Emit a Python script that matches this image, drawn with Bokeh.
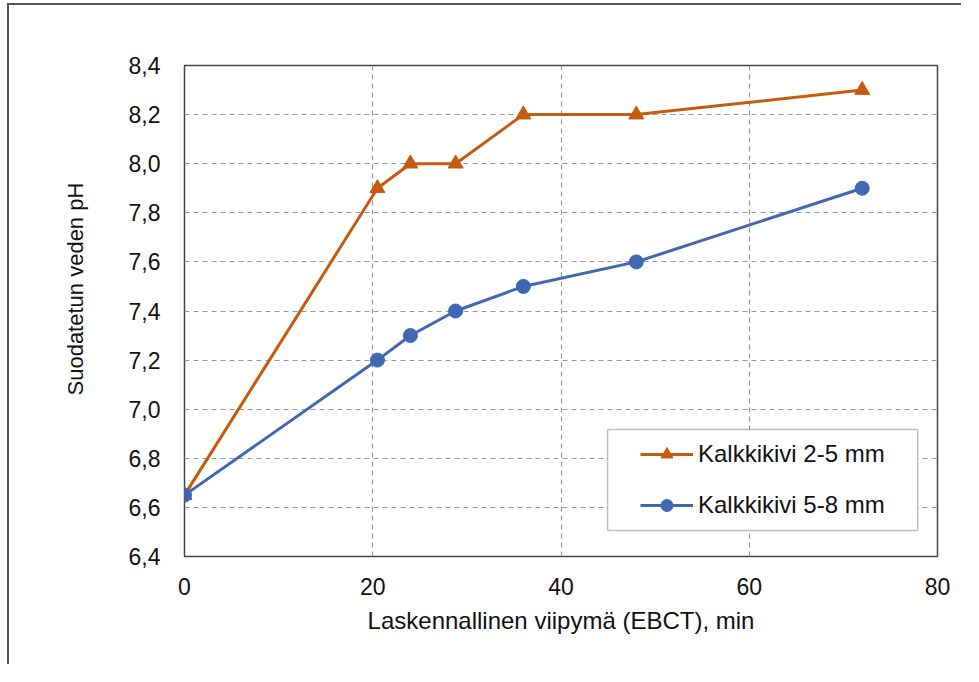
from bokeh.plotting import figure
from bokeh.models import (Legend, LegendItem, BoxAnnotation, CustomJSTickFormatter,
                          FixedTicker, Range1d, Title)
from bokeh.embed import file_html
from bokeh.resources import INLINE

# data
ebct = [0, 20.5, 24, 28.8, 36, 48, 72]
ph_2_5 = [6.65, 7.9, 8.0, 8.0, 8.2, 8.2, 8.3]
ph_5_8 = [6.65, 7.2, 7.3, 7.4, 7.5, 7.6, 7.9]
label_2_5 = "Kalkkikivi 2-5 mm"
label_5_8 = "Kalkkikivi 5-8 mm"
x_ticks = [0, 20, 40, 60, 80]
y_ticks = [6.4, 6.6, 6.8, 7.0, 7.2, 7.4, 7.6, 7.8, 8.0, 8.2, 8.4]
x_title = "Laskennallinen viipymä (EBCT), min"
y_title = "Suodatetun veden pH"

ORANGE = "#C55A11"
BLUE = "#4068B2"
FONT = "Liberation Sans"

p = figure(width=954, height=661, output_backend="svg", toolbar_location=None,
           x_range=Range1d(0, 80), y_range=Range1d(6.4, 8.4),
           min_border_left=175, min_border_right=26, min_border_top=60,
           min_border_bottom=110)
p.styles = {"border-left": "2px solid #555", "border-top": "2px solid #555",
            "margin-left": "7px", "margin-top": "3px"}

p.outline_line_color = "#444"
p.outline_line_width = 1.5

for ax in (p.xaxis[0], p.yaxis[0]):
    ax.axis_line_color = None
    ax.major_tick_line_color = None
    ax.minor_tick_line_color = None
    ax.major_label_text_font = FONT
    ax.major_label_text_font_size = "23px"
    ax.major_label_text_color = "#111"
    ax.axis_label_text_font = FONT
    ax.axis_label_text_font_size = "24px"
    ax.axis_label_text_font_style = "normal"
    ax.axis_label_text_color = "#111"

p.xaxis.ticker = FixedTicker(ticks=x_ticks)
p.yaxis.ticker = FixedTicker(ticks=y_ticks)
p.yaxis.formatter = CustomJSTickFormatter(code="return tick.toFixed(1).replace('.', ',');")
p.xaxis.major_label_standoff = 15
p.yaxis.major_label_standoff = 18
p.xaxis.axis_label = x_title
p.xaxis.axis_label_standoff = 9

ytitle = Title(text=y_title, align="left", offset=161, standoff=75,
               text_font=FONT, text_font_size="22px", text_font_style="normal",
               text_color="#111")
p.add_layout(ytitle, "left")

p.xgrid.grid_line_color = "#999"
p.ygrid.grid_line_color = "#999"
p.xgrid.grid_line_dash = "5 4"
p.ygrid.grid_line_dash = "5 4"
p.xgrid.grid_line_width = 1.2
p.ygrid.grid_line_width = 1.2

l1 = p.line(ebct, ph_2_5, line_color=ORANGE, line_width=3)
m1 = p.scatter(ebct, ph_2_5, marker="triangle", size=15, fill_color=ORANGE, line_color=ORANGE)
l2 = p.line(ebct, ph_5_8, line_color=BLUE, line_width=3)
m2 = p.scatter(ebct, ph_5_8, marker="circle", size=14, fill_color=BLUE, line_color=BLUE)

box = BoxAnnotation(left=44.95, right=77.9, top=6.917, bottom=6.506,
                    fill_color="white", fill_alpha=1.0,
                    line_color="#333", line_width=1.5)
p.add_layout(box)

legend = Legend(items=[LegendItem(label=label_2_5, renderers=[l1, m1]),
                       LegendItem(label=label_5_8, renderers=[l2, m2])],
                location=(456, 36), padding=0, margin=0,
                border_line_alpha=0, background_fill_alpha=0,
                glyph_width=53, glyph_height=30, label_height=30,
                spacing=21, label_standoff=5,
                label_text_font=FONT, label_text_font_size="24px",
                label_text_color="#111")
p.add_layout(legend, "center")

open("out.html", "w").write(file_html(p, INLINE))
